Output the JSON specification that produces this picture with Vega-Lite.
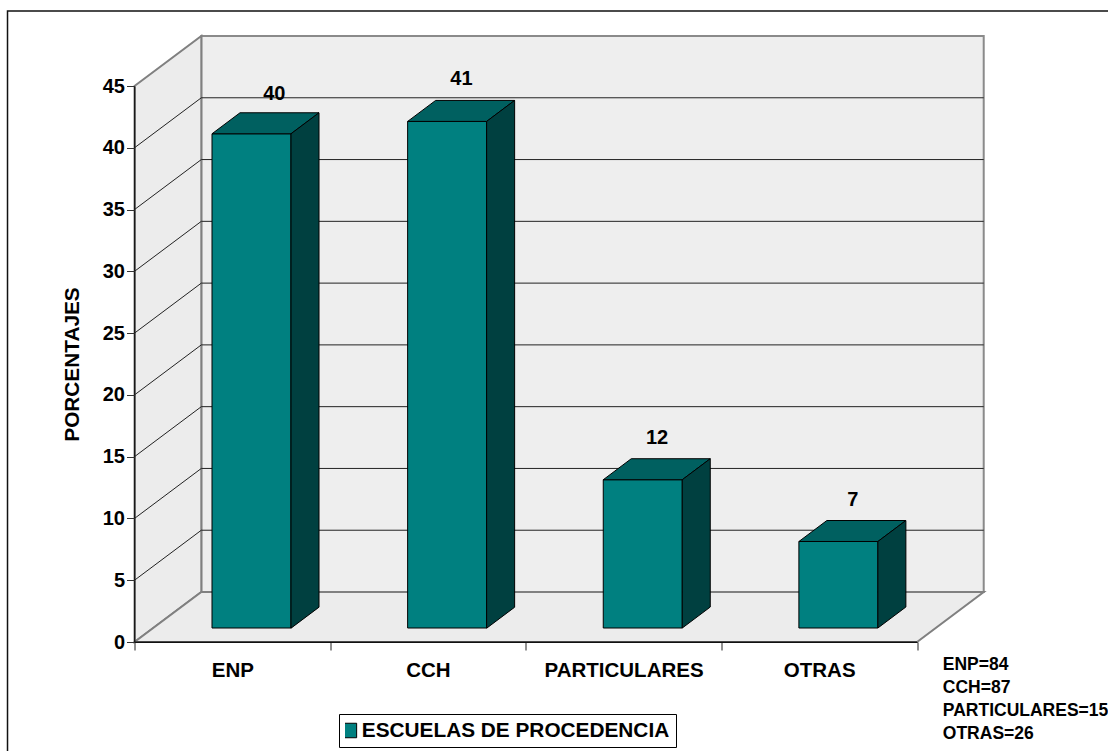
{
  "$schema": "https://vega.github.io/schema/vega-lite/v6.json",
  "width": 782.5,
  "height": 556,
  "autosize": {"type": "none"},
  "padding": {"left": 134.5, "top": 86, "right": 191, "bottom": 109},
  "background": "white",
  "config": {"font": "Liberation Sans", "view": {"stroke": null}},
  "datasets": {
    "escuelas": [
      {"escuela": "ENP", "valor": 40, "serie": "ESCUELAS DE PROCEDENCIA"},
      {"escuela": "CCH", "valor": 41, "serie": "ESCUELAS DE PROCEDENCIA"},
      {"escuela": "PARTICULARES", "valor": 12, "serie": "ESCUELAS DE PROCEDENCIA"},
      {"escuela": "OTRAS", "valor": 7, "serie": "ESCUELAS DE PROCEDENCIA"}
    ],
    "niveles": [
      {"nivel": 5}, {"nivel": 10}, {"nivel": 15}, {"nivel": 20}, {"nivel": 25},
      {"nivel": 30}, {"nivel": 35}, {"nivel": 40}, {"nivel": 45}
    ],
    "base": [{"nivel": 0, "escuela": "ENP", "nota": "ENP=84|CCH=87|PARTICULARES=15|OTRAS=26"}]
  },
  "encoding": {
    "x": {
      "field": "escuela", "type": "nominal", "sort": ["ENP", "CCH", "PARTICULARES", "OTRAS"],
      "scale": {"domain": ["ENP", "CCH", "PARTICULARES", "OTRAS"], "paddingInner": 0, "paddingOuter": 0},
      "axis": {
        "title": null, "labelAngle": 0, "labelFont": "Liberation Sans", "labelFontWeight": "bold",
        "labelFontSize": 20.5, "labelColor": "black", "labelPadding": 10, "tickBand": "extent",
        "tickSize": 8, "tickColor": "#222222", "domainColor": "#111111", "labelOverlap": false, "zindex": 1
      }
    },
    "y": {
      "field": "nivel", "type": "quantitative",
      "scale": {"domain": [0, 45], "nice": false},
      "axis": {
        "title": "PORCENTAJES", "values": [0, 5, 10, 15, 20, 25, 30, 35, 40, 45],
        "labelFontWeight": "bold", "labelFontSize": 20, "labelColor": "black", "labelPadding": 2,
        "tickSize": 8, "tickColor": "#333333", "domainColor": "#222222", "grid": false,
        "titleFontSize": 20.8, "titleFontWeight": "bold", "titleColor": "black", "titlePadding": 20, "zindex": 1
      }
    }
  },
  "layer": [
    {
      "data": {"name": "base"},
      "mark": {"type": "point", "filled": true, "size": 4, "opacity": 1, "fill": "#eeeeee", "stroke": "#8a8a8a", "strokeWidth": 2,
        "shape": "M-31,-606 L751.4,-606 L751.4,-50 L-31,-50 Z"},
      "encoding": {}
    },
    {
      "data": {"name": "base"},
      "mark": {"type": "point", "filled": true, "size": 4, "opacity": 1, "fill": "#ececec", "stroke": "#808080", "strokeWidth": 2,
        "shape": "M-97.8,-556 L-31,-606 L-31,-50 L-97.8,0 Z"},
      "encoding": {}
    },
    {
      "data": {"name": "base"},
      "mark": {"type": "point", "filled": true, "size": 4, "opacity": 1, "fill": "#ececec", "stroke": "#808080", "strokeWidth": 2,
        "shape": "M-97.8,0 L-31,-50 L751.4,-50 L684.7,0 Z"},
      "encoding": {}
    },
    {
      "data": {"name": "niveles"},
      "transform": [{"filter": "datum.nivel < 45"}],
      "mark": {"type": "point", "filled": false, "size": 4, "opacity": 1, "stroke": "#222222", "strokeWidth": 1,
        "shape": "M-97.8,0 L-31,-50 L751.4,-50"},
      "encoding": {"x": {"datum": "ENP"}}
    },
    {
      "data": {"name": "base"},
      "mark": {"type": "point", "filled": false, "size": 4, "opacity": 1, "stroke": "#111111", "strokeWidth": 1,
        "shape": "M684.7,0 L-97.8,0 L-97.8,-556"},
      "encoding": {}
    },
    {
      "data": {"name": "escuelas"},
      "mark": {"type": "bar", "size": 79, "xOffset": 19.2, "yOffset": -14, "y2Offset": -14, "stroke": "black", "strokeWidth": 1, "opacity": 1},
      "encoding": {
        "y": {"field": "valor", "type": "quantitative"},
        "color": {
          "field": "serie", "type": "nominal",
          "scale": {"range": ["#008080"]},
          "legend": {
            "title": null, "orient": "none", "legendX": 204.5, "legendY": 628, "direction": "horizontal",
            "symbolType": "square", "symbolSize": 210, "symbolStrokeColor": "black", "symbolStrokeWidth": 1, "symbolOpacity": 1, "symbolOffset": -6,
            "labelFont": "Liberation Sans", "labelFontWeight": "bold", "labelFontSize": 20.8, "labelColor": "black", "labelLimit": 400, "labelOffset": 2,
            "clipHeight": 21,
            "fillColor": "white", "strokeColor": "black", "padding": 6
          }
        }
      }
    },
    {
      "data": {"name": "escuelas"},
      "mark": {"type": "point", "filled": true, "size": 4, "opacity": 1, "fill": "#006060", "stroke": "black", "strokeWidth": 1,
        "shape": "M-20.3,-14 L7.7,-35 L86.7,-35 L58.7,-14 Z"},
      "encoding": {"y": {"field": "valor", "type": "quantitative"}}
    },
    {
      "data": {"name": "escuelas"},
      "mark": {"type": "point", "filled": true, "size": 4, "opacity": 1, "fill": "#004040", "stroke": "black", "strokeWidth": 1},
      "encoding": {
        "y": {"field": "valor", "type": "quantitative"},
        "shape": {
          "field": "escuela", "type": "nominal", "legend": null,
          "scale": {
            "domain": ["ENP", "CCH", "PARTICULARES", "OTRAS"],
            "range": [
              "M58.7,-14 L86.7,-35 L86.7,459.4 L58.7,480.4 Z",
              "M58.7,-14 L86.7,-35 L86.7,471.8 L58.7,492.8 Z",
              "M58.7,-14 L86.7,-35 L86.7,113.3 L58.7,134.3 Z",
              "M58.7,-14 L86.7,-35 L86.7,51.5 L58.7,72.5 Z"
            ]
          }
        }
      }
    },
    {
      "data": {"name": "escuelas"},
      "transform": [{"filter": "datum.valor == 40"}],
      "mark": {"type": "text", "dx": 42, "dy": -54, "fontWeight": "bold", "fontSize": 20, "color": "black"},
      "encoding": {"y": {"field": "valor", "type": "quantitative"}, "text": {"field": "valor", "type": "quantitative"}}
    },
    {
      "data": {"name": "escuelas"},
      "transform": [{"filter": "datum.valor != 40"}],
      "mark": {"type": "text", "dx": 33.5, "dy": -56, "fontWeight": "bold", "fontSize": 20, "color": "black"},
      "encoding": {"y": {"field": "valor", "type": "quantitative"}, "text": {"field": "valor", "type": "quantitative"}}
    },
    {
      "data": {"name": "base"},
      "mark": {"type": "text", "align": "left", "baseline": "middle", "dx": 710.5, "dy": 23, "lineBreak": "|", "lineHeight": 23, "fontWeight": "bold", "fontSize": 17.5, "color": "black"},
      "encoding": {"text": {"field": "nota"}}
    },
    {
      "data": {"name": "base"},
      "mark": {"type": "point", "filled": false, "size": 4, "opacity": 1, "stroke": "#111111", "strokeWidth": 1.5,
        "shape": "M1000,-631 L-224.8,-631 L-224.8,130"},
      "encoding": {}
    }
  ]
}
